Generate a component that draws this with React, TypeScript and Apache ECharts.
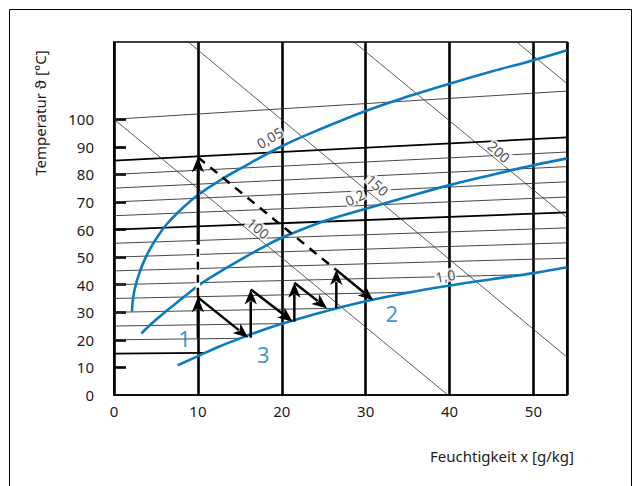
import React, { useEffect, useRef } from "react";
import * as echarts from "echarts";

// ---- axes ----
const xTickValues = [0, 10, 20, 30, 40, 50];
const yTickLabelValues = [0, 10, 20, 30, 40, 50, 60, 70, 80, 90, 100];
const yTickMarkValues = [10, 20, 30, 40, 50, 60, 70, 80, 90, 100];

// ---- isotherms (start at x = 0, y = temperature) ----
const isothermTemps = [100, 85, 80, 75, 70, 65, 60, 55, 50, 45, 40, 35, 30, 25, 20, 15];
const isothermEndX = [54, 54, 54, 54, 54, 54, 54, 54, 54, 54, 48.6, 35.6, 26.5, 20.1, 14.8, 10.75];
const isothermEndY = [110.2, 93.4, 88.1, 82.8, 77.3, 71.8, 66.2, 60.6, 55.2, 49.6, 43.6, 37.3, 31.45, 25.9, 20.55, 15.3];
const isothermBold = [false, true, false, false, false, false, true, false, false, false, false, false, false, false, false, true];

// ---- isenthalps ----
const enthalpyStart = [[0, 100], [8.86, 128], [28.6, 128], [48.0, 128]];
const enthalpyEnd = [[39.8, 0], [54, 13.7], [54, 64.3], [54, 112.9]];

// ---- relative humidity curves ----
const phi005 = [[2.15, 30.3], [2.2, 33], [2.35, 36.5], [2.6, 40], [3.0, 44], [3.5, 48], [4.2, 52.4], [5.1, 57], [6.3, 62], [7.9, 67], [10, 72.5], [12.5, 77.6], [15, 82], [20, 90.2], [25, 96.9], [30, 103], [35, 108.2], [40, 112.9], [45, 117.3], [50, 121.4], [54, 125]];
const phi02 = [[3.26, 22.3], [4.5, 25.9], [6, 29.8], [7.5, 33.5], [9, 37.2], [10.3, 40.2], [11.5, 42.6], [12.8, 45.0], [15, 48.9], [17.5, 53.2], [20, 57.0], [25, 63], [29.4, 67.0], [35, 71.9], [40, 76.1], [45, 79.8], [50, 83.3], [54, 85.8]];
const phi10 = [[7.6, 10.8], [10, 14.1], [12.5, 17.5], [15, 20.5], [17.5, 23.3], [20, 25.8], [25, 30.2], [30, 34], [35, 37.1], [40, 39.7], [45, 42], [50, 44.2], [54, 46.3]];

// ---- process segments: from, to, arrowhead (1/0), style (0 solid, 1 dashed, 2 dashed on white) ----
const segFrom = [[10, 20.7], [10, 35.4], [16.3, 20.8], [16.3, 38.3], [21.5, 26.6], [21.5, 40.7], [26.5, 31.4], [26.5, 45.3], [10, 35.4], [10, 86.2], [10, 36.0]];
const segTo = [[10, 35.4], [16.0, 20.8], [16.3, 38.3], [21.3, 26.6], [21.5, 40.7], [25.4, 31.4], [26.5, 45.3], [30.9, 34.4], [10, 86.2], [26.5, 45.3], [10, 54.5]];
const segHead = [1, 1, 1, 1, 1, 1, 1, 1, 1, 0, 0];
const segStyle = [0, 0, 0, 0, 0, 0, 0, 0, 0, 1, 2];

// ---- labels ----
const curveLabelText = ["0,05", "0,2", "1,0", "100", "150", "200"];
const curveLabelPos = [[18.56, 93.3], [28.7, 71.6], [39.5, 43.2], [17.2, 60.5], [31.4, 76.1], [45.9, 88.2]];
const curveLabelRotate = [30, 25, 10, -40, -42, -42];
const stateLabelText = ["1", "2", "3"];
const stateLabelPos = [[8.4, 20.5], [33.1, 29.6], [17.8, 14.8]];

const BLUE = "#0b7bc1";
const FONT = "Noto Sans";

export default function App() {
  const ref = useRef<HTMLDivElement>(null);
  useEffect(() => {
    if (!ref.current) return;
    const chart = echarts.init(ref.current, null, { renderer: "svg" });
    const series: any[] = [];

    isothermTemps.forEach((t, i) => {
      series.push({
        type: "line",
        data: [[0, t], [isothermEndX[i], isothermEndY[i]]],
        symbol: "none",
        silent: true,
        z: 2,
        lineStyle: { color: isothermBold[i] ? "#000" : "#333", width: isothermBold[i] ? 1.8 : 0.9 },
      });
    });

    enthalpyStart.forEach((s, i) => {
      series.push({
        type: "line",
        data: [s, enthalpyEnd[i]],
        symbol: "none",
        silent: true,
        z: 2,
        lineStyle: { color: "#333", width: 0.8 },
      });
    });

    [phi005, phi02, phi10].forEach((c) => {
      series.push({
        type: "line",
        data: c,
        symbol: "none",
        smooth: 0.4,
        silent: true,
        z: 3,
        lineStyle: { color: BLUE, width: 2.6 },
      });
    });

    const segData = segFrom.map((f, i) => [f[0], f[1], segTo[i][0], segTo[i][1], segHead[i], segStyle[i]]);
    series.push({
      type: "custom",
      coordinateSystem: "cartesian2d",
      silent: true,
      z: 6,
      clip: false,
      encode: { x: [0, 2], y: [1, 3] },
      data: segData,
      renderItem: (params: any, api: any) => {
        const p1 = api.coord([api.value(0), api.value(1)]);
        const p2 = api.coord([api.value(2), api.value(3)]);
        const head = api.value(4) === 1;
        const st = api.value(5);
        const dx = p2[0] - p1[0];
        const dy = p2[1] - p1[1];
        const len = Math.sqrt(dx * dx + dy * dy) || 1;
        const ux = dx / len;
        const uy = dy / len;
        const nx = -uy;
        const ny = ux;
        const L = 15;
        const W = 6.2;
        const N = 11;
        const end = head ? [p2[0] - ux * (N + 1), p2[1] - uy * (N + 1)] : p2;
        const children: any[] = [];
        if (st === 2) {
          children.push({ type: "line", shape: { x1: p1[0], y1: p1[1], x2: end[0], y2: end[1] }, style: { stroke: "#fff", lineWidth: 4.5 } });
        }
        children.push({
          type: "line",
          shape: { x1: p1[0], y1: p1[1], x2: end[0], y2: end[1] },
          style: { stroke: "#000", lineWidth: 2.5, lineDash: st === 0 ? null : st === 2 ? [8, 5] : [9, 7] },
        });
        if (head) {
          children.push({
            type: "polygon",
            shape: {
              points: [
                [p2[0], p2[1]],
                [p2[0] - ux * L + nx * W, p2[1] - uy * L + ny * W],
                [p2[0] - ux * N, p2[1] - uy * N],
                [p2[0] - ux * L - nx * W, p2[1] - uy * L - ny * W],
              ],
            },
            style: { fill: "#000" },
          });
        }
        return { type: "group", children };
      },
    });

    series.push({
      type: "scatter",
      silent: true,
      symbolSize: 0,
      z: 8,
      data: curveLabelText.map((t, i) => ({
        value: curveLabelPos[i],
        label: {
          show: true,
          formatter: t,
          position: "inside",
          rotate: curveLabelRotate[i],
          color: "#222",
          fontFamily: FONT,
          fontSize: 14,
          backgroundColor: "#fff",
          padding: [0, 1],
        },
      })),
    });

    series.push({
      type: "scatter",
      silent: true,
      symbolSize: 0,
      z: 8,
      data: stateLabelText.map((t, i) => ({
        value: stateLabelPos[i],
        label: {
          show: true,
          formatter: t,
          position: "inside",
          color: BLUE,
          fontFamily: FONT,
          fontSize: 22,
        },
      })),
    });

    chart.setOption({
      animation: false,
      backgroundColor: "#fff",
      grid: { left: 114, top: 42, width: 453, height: 353, show: true, borderColor: "#000", borderWidth: 1.5, backgroundColor: "transparent" },
      xAxis: {
        type: "value",
        min: 0,
        max: 54,
        interval: 10,
        axisLine: { show: true, lineStyle: { color: "#000", width: 1.5 } },
        axisTick: { show: false },
        axisLabel: { color: "#1a1a1a", fontFamily: FONT, fontSize: 15, margin: 8, customValues: xTickValues },
        splitLine: { show: true, lineStyle: { color: "#000", width: 2.6 } },
      },
      yAxis: {
        type: "value",
        min: 0,
        max: 128,
        interval: 10,
        axisLine: { show: true, lineStyle: { color: "#000", width: 1.5 } },
        axisTick: { show: true, inside: true, length: 12, lineStyle: { color: "#000", width: 2.6 }, customValues: yTickMarkValues },
        axisLabel: { color: "#1a1a1a", fontFamily: FONT, fontSize: 15, margin: 20, customValues: yTickLabelValues },
        splitLine: { show: false },
      },
      graphic: [
        { type: "rect", shape: { x: 9.5, y: 9.5, width: 622, height: 500 }, style: { fill: "none", stroke: "#000", lineWidth: 1 }, silent: true },
        { type: "text", x: 40, y: 113, rotation: Math.PI / 2, style: { text: "Temperatur ϑ [°C]", align: "center", verticalAlign: "middle", fill: "#1a1a1a", font: `15px "${FONT}"` }, silent: true },
        { type: "text", x: 502, y: 456, style: { text: "Feuchtigkeit x [g/kg]", align: "center", verticalAlign: "middle", fill: "#1a1a1a", font: `15px "${FONT}"` }, silent: true },
      ],
      series,
    });
    return () => chart.dispose();
  }, []);
  return <div ref={ref} style={{ position: "fixed", left: 0, top: 0, width: 640, height: 486 }} />;
}
